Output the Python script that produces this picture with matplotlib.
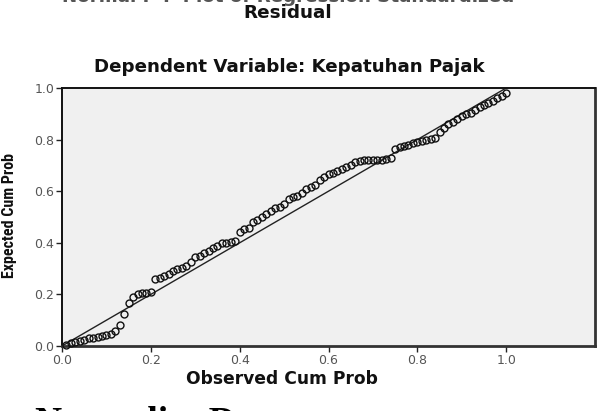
import matplotlib
matplotlib.use("Agg")
import matplotlib.pyplot as plt
from matplotlib import font_manager

ttf = font_manager.fontManager.ttflist
names = {f.name for f in ttf}
narrow_family = "Liberation Sans"
for cand in ["Liberation Sans Narrow", "Roboto Condensed", "Open Sans Condensed",
             "DejaVu Sans Condensed"]:
    if cand in names:
        narrow_family = cand
        break

observed = [0.01, 0.02, 0.03, 0.04, 0.05, 0.06, 0.07, 0.08, 0.09, 0.10,
            0.11, 0.12, 0.13, 0.14, 0.15, 0.16, 0.17, 0.18, 0.19, 0.20,
            0.21, 0.22, 0.23, 0.24, 0.25, 0.26, 0.27, 0.28, 0.29, 0.30,
            0.31, 0.32, 0.33, 0.34, 0.35, 0.36, 0.37, 0.38, 0.39, 0.40,
            0.41, 0.42, 0.43, 0.44, 0.45, 0.46, 0.47, 0.48, 0.49, 0.50,
            0.51, 0.52, 0.53, 0.54, 0.55, 0.56, 0.57, 0.58, 0.59, 0.60,
            0.61, 0.62, 0.63, 0.64, 0.65, 0.66, 0.67, 0.68, 0.69, 0.70,
            0.71, 0.72, 0.73, 0.74, 0.75, 0.76, 0.77, 0.78, 0.79, 0.80,
            0.81, 0.82, 0.83, 0.84, 0.85, 0.86, 0.87, 0.88, 0.89, 0.90,
            0.91, 0.92, 0.93, 0.94, 0.95, 0.96, 0.97, 0.98, 0.99, 1.00]
expected = [0.005, 0.010, 0.015, 0.020, 0.025, 0.030, 0.032, 0.035, 0.040, 0.042,
            0.048, 0.060, 0.080, 0.125, 0.165, 0.190, 0.200, 0.205, 0.207, 0.210,
            0.260, 0.265, 0.270, 0.280, 0.290, 0.300, 0.302, 0.310, 0.325, 0.345,
            0.350, 0.360, 0.370, 0.378, 0.388, 0.398, 0.400, 0.402, 0.406, 0.440,
            0.452, 0.458, 0.480, 0.490, 0.500, 0.510, 0.525, 0.535, 0.540, 0.550,
            0.568, 0.576, 0.582, 0.592, 0.608, 0.615, 0.625, 0.645, 0.655, 0.665,
            0.670, 0.680, 0.685, 0.692, 0.702, 0.712, 0.718, 0.720, 0.720, 0.721,
            0.722, 0.722, 0.725, 0.730, 0.765, 0.770, 0.775, 0.780, 0.785, 0.790,
            0.795, 0.800, 0.802, 0.806, 0.830, 0.845, 0.860, 0.870, 0.880, 0.890,
            0.900, 0.905, 0.915, 0.925, 0.935, 0.940, 0.950, 0.960, 0.970, 0.980]
ticks = [0.0, 0.2, 0.4, 0.6, 0.8, 1.0]
tick_labels = ["0.0", "0.2", "0.4", "0.6", "0.8", "1.0"]

W, H = 601, 411
fig = plt.figure(figsize=(W / 100, H / 100), dpi=100)
fig.patch.set_facecolor("white")
renderer = fig.canvas.get_renderer()


def fit(t, target_px, vertical=False):
    """Scale the font size of text t so that its extent matches target_px."""
    for _ in range(3):
        bb = t.get_window_extent(renderer=renderer)
        cur = bb.height if vertical else bb.width
        if cur > 0:
            t.set_fontsize(t.get_fontsize() * target_px / cur)
    return t


ax = fig.add_axes([62 / W, (H - 346) / H, (595 - 62) / W, (346 - 88) / H])
ax.set_facecolor("#f0f0f0")
ax.set_xlim(0, 1.2)
ax.set_ylim(0, 1.0)

ax.plot([0, 1], [0, 1], color="#222222", lw=1.0, zorder=2)
ax.plot(observed, expected, linestyle="none", marker="o", markersize=5.0,
        markerfacecolor="none", markeredgecolor="#111111", markeredgewidth=1.0,
        zorder=3, clip_on=False)

for side in ["left", "top"]:
    ax.spines[side].set_color("#111111")
    ax.spines[side].set_linewidth(1.4)
for side in ["right", "bottom"]:
    ax.spines[side].set_color("#333333")
    ax.spines[side].set_linewidth(2.0)

ax.set_xticks(ticks)
ax.set_xticklabels(tick_labels)
ax.set_yticks(ticks)
ax.set_yticklabels(tick_labels)
ax.tick_params(direction="out", length=4, width=1, color="#222222",
               labelsize=9, labelcolor="#555555", pad=1.5)
for lab in ax.get_xticklabels() + ax.get_yticklabels():
    lab.set_family("DejaVu Sans")

K = 0.88  # width factor vs. the (horizontally stretched) reference text

xl = fig.text(282 / W, 1 - 379 / H, "Observed Cum Prob", ha="center", va="center",
              fontsize=10, fontweight="bold", family="DejaVu Sans", color="#111111")
fit(xl, 219 * K)
yl = fig.text(10 / W, 1 - 215 / H, "Expected Cum Prob", ha="center", va="center",
              rotation=90, fontsize=11, family=narrow_family, fontweight="bold",
              color="#111111")
fit(yl, 126, vertical=True)

tt = fig.text(289 / W, 1 - 67 / H, "Dependent Variable: Kepatuhan Pajak", ha="center",
              va="center", fontsize=11, fontweight="bold", family="DejaVu Sans",
              color="#111111")
fit(tt, 443 * K)
rs = fig.text(288 / W, 1 - 13 / H, "Residual", ha="center", va="center",
              fontsize=11, fontweight="bold", family="DejaVu Sans", color="#111111")
fit(rs, 100 * K)
top = fig.text(288 / W, 1 - 2.5 / H, "Normal P-P Plot of Regression Standardized",
               ha="center", va="baseline", fontsize=12, fontweight="bold",
               family="DejaVu Sans", color="#555555")
fit(top, 515 * K)
nd = fig.text(35 / W, 1 - 406 / H, "Normality Data", ha="left", va="top",
              fontsize=27, fontweight="bold", family="Liberation Serif", color="#000000")

fig.savefig("out.png", dpi=100)
